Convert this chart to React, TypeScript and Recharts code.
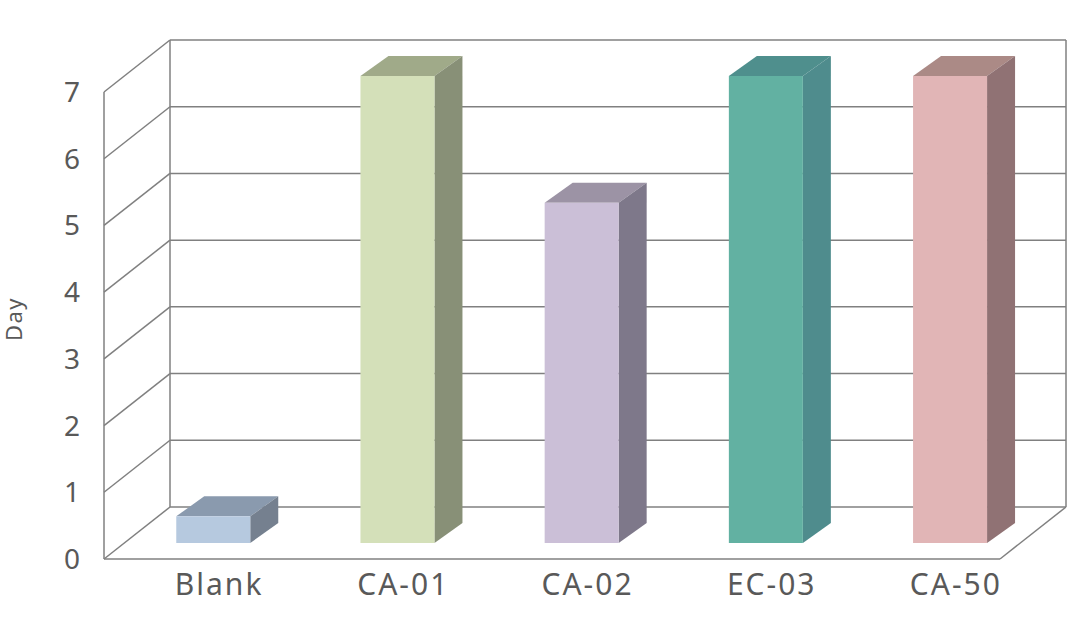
import { BarChart, Bar, XAxis, YAxis, CartesianGrid } from "recharts";

const categories = ["Blank", "CA-01", "CA-02", "EC-03", "CA-50"];
const days = [0.4, 7, 5.1, 7, 7];
const yTicks = [0, 1, 2, 3, 4, 5, 6, 7];

const frontColors = ["#b6c9df", "#d4e0b9", "#cbbfd7", "#62b1a2", "#e1b5b6"];
const topColors = ["#8a9aae", "#a0aa89", "#9c93a5", "#4f8f8d", "#ab8a86"];
const sideColors = ["#75808f", "#889077", "#7e788a", "#4f8c8d", "#907274"];

const data = categories.map((name, i) => ({ name, value: days[i] }));

// projection of the 3D box
const FRONT_LEFT = 104;
const BACK_LEFT = 170;
const BACK_RIGHT = 1066;
const FRONT_RIGHT = 1000;
const TO_FRONT = 16; // plot plane -> front plane (y)
const TO_BACK = 36; // plot plane -> back plane (y)
const BAR_DX = 28;
const BAR_DY = 20;
const LINE = "#808080";
const TEXT = "#595959";

function Box(props: any) {
  const { x, y, width, height, index } = props;
  if (height == null || width == null) return null;
  const r = x + width;
  const b = y + height;
  return (
    <g>
      <polygon
        points={`${x},${y} ${x + BAR_DX},${y - BAR_DY} ${r + BAR_DX},${y - BAR_DY} ${r},${y}`}
        fill={topColors[index]}
      />
      <polygon
        points={`${r},${y} ${r + BAR_DX},${y - BAR_DY} ${r + BAR_DX},${b - BAR_DY} ${r},${b}`}
        fill={sideColors[index]}
      />
      <rect x={x} y={y} width={width} height={height} fill={frontColors[index]} />
    </g>
  );
}

function GridLine(props: any) {
  const { y1, y, height } = props;
  const yf = y1 + TO_FRONT;
  const yb = y1 - TO_BACK;
  const top = Math.abs(y1 - y) < 0.5;
  const bottom = Math.abs(y1 - (y + height)) < 0.5;
  const st = { stroke: LINE, strokeWidth: 1.5, fill: "none" };
  return (
    <g>
      <line x1={FRONT_LEFT} y1={yf} x2={BACK_LEFT} y2={yb} {...st} />
      <line x1={BACK_LEFT} y1={yb} x2={BACK_RIGHT} y2={yb} {...st} />
      {top && (
        <>
          <line x1={FRONT_LEFT} y1={yf} x2={FRONT_LEFT} y2={yf + height} {...st} />
          <line x1={BACK_LEFT} y1={yb} x2={BACK_LEFT} y2={yb + height} {...st} />
          <line x1={BACK_RIGHT} y1={yb} x2={BACK_RIGHT} y2={yb + height} {...st} />
        </>
      )}
      {bottom && (
        <>
          <line x1={FRONT_LEFT} y1={yf} x2={FRONT_RIGHT} y2={yf} {...st} />
          <line x1={FRONT_RIGHT} y1={yf} x2={BACK_RIGHT} y2={yb} {...st} />
        </>
      )}
    </g>
  );
}

function YTick(props: any) {
  const { y, payload } = props;
  return (
    <text x={80} y={y + TO_FRONT} dy={10} textAnchor="end" fontSize={28} fill={TEXT}>
      {payload.value}
    </text>
  );
}

function XTick(props: any) {
  const { x, y, payload } = props;
  return (
    <text x={x + 6} y={y} dy={44} textAnchor="middle" fontSize={30} letterSpacing={2} fill={TEXT}>
      {payload.value}
    </text>
  );
}

function DayLabel() {
  return (
    <text x={15} y={319} transform="rotate(-90 15 319)" textAnchor="middle" dy={7} fontSize={22} letterSpacing={1.5} fill={TEXT}>
      Day
    </text>
  );
}

export default function App() {
  return (
    <div style={{ position: "absolute", left: 0, top: 0, fontFamily: "'Noto Sans', sans-serif" }}>
      <BarChart
        width={1080}
        height={617}
        data={data}
        margin={{ top: 76, right: 38, bottom: 14, left: 61 }}
        barCategoryGap="30%"
      >
        <CartesianGrid horizontal={(p: any) => <GridLine {...p} />} vertical={false} />
        <XAxis
          dataKey="name"
          axisLine={false}
          tickLine={false}
          height={60}
          tick={<XTick />}
          interval={0}
        />
        <YAxis
          domain={[0, 7]}
          ticks={yTicks}
          width={60}
          axisLine={false}
          tickLine={false}
          tick={<YTick />}
          label={<DayLabel />}
        />
        <Bar dataKey="value" shape={<Box />} isAnimationActive={false} />
      </BarChart>
    </div>
  );
}
